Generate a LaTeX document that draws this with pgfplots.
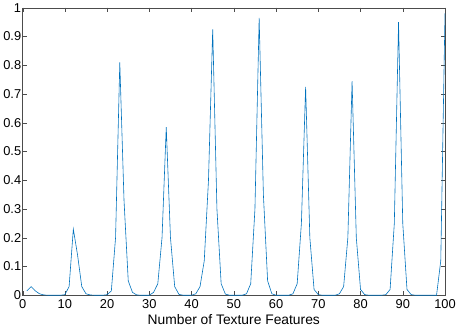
\documentclass[border=0pt]{standalone}
\usepackage{pgfplots}
\pgfplotsset{compat=1.18}
\usepackage{fontspec}
\setmainfont{Liberation Sans}
\definecolor{mblue}{rgb}{0,0.447,0.741}
\begin{document}
\begin{tikzpicture}
\begin{axis}[
  scale only axis,
  width=426bp, height=290bp,
  xmin=0, xmax=100, ymin=0, ymax=1,
  xtick={0,10,...,100},
  ytick={0,0.1,...,1},
  yticklabel style={/pgf/number format/fixed},
  /pgf/number format/assume math mode=true,
  tick align=inside,
  tick pos=both,
  major tick length=4bp,
  axis line style={draw=black!70},
  tick style={draw=black!70},
  ticklabel style={font=\fontsize{13}{15}\selectfont},
  xticklabel style={yshift=-1bp},
  yticklabel style={xshift=2bp},
  xlabel={Number of Texture Features},
  xlabel style={font=\fontsize{14}{16}\selectfont, yshift=1bp},
]
\addplot[mblue, line width=0.6pt] coordinates {
(1,0.015)(2,0.03)(3,0.015)(4,0.005)(5,0.001)(6,0)(7,0)(8,0)(9,0)
(10,0.002)(11,0.03)(12,0.23)(13,0.14)(14,0.03)(15,0.005)(16,0.001)(17,0)(18,0)(19,0)
(20,0.002)(21,0.015)(22,0.2)(23,0.81)(24,0.33)(25,0.05)(26,0.01)(27,0.001)(28,0)(29,0)(30,0)
(31,0.01)(32,0.04)(33,0.2)(34,0.585)(35,0.2)(36,0.03)(37,0.003)(38,0)(39,0)(40,0)
(41,0.005)(42,0.03)(43,0.12)(44,0.4)(45,0.925)(46,0.3)(47,0.04)(48,0.004)(49,0)(50,0)(51,0)
(52,0)(53,0.005)(54,0.04)(55,0.3)(56,0.965)(57,0.35)(58,0.05)(59,0.005)(60,0)(61,0)(62,0)
(63,0)(64,0.005)(65,0.04)(66,0.25)(67,0.725)(68,0.2)(69,0.02)(70,0.002)(71,0)(72,0)(73,0)
(74,0)(75,0.005)(76,0.03)(77,0.2)(78,0.745)(79,0.2)(80,0.02)(81,0.002)(82,0)(83,0)(84,0)
(85,0)(86,0.002)(87,0.02)(88,0.25)(89,0.95)(90,0.25)(91,0.02)(92,0.002)(93,0)(94,0)(95,0)
(96,0)(97,0)(98,0)(99,0.12)(100,0.98)
};
\end{axis}
\end{tikzpicture}
\end{document}
